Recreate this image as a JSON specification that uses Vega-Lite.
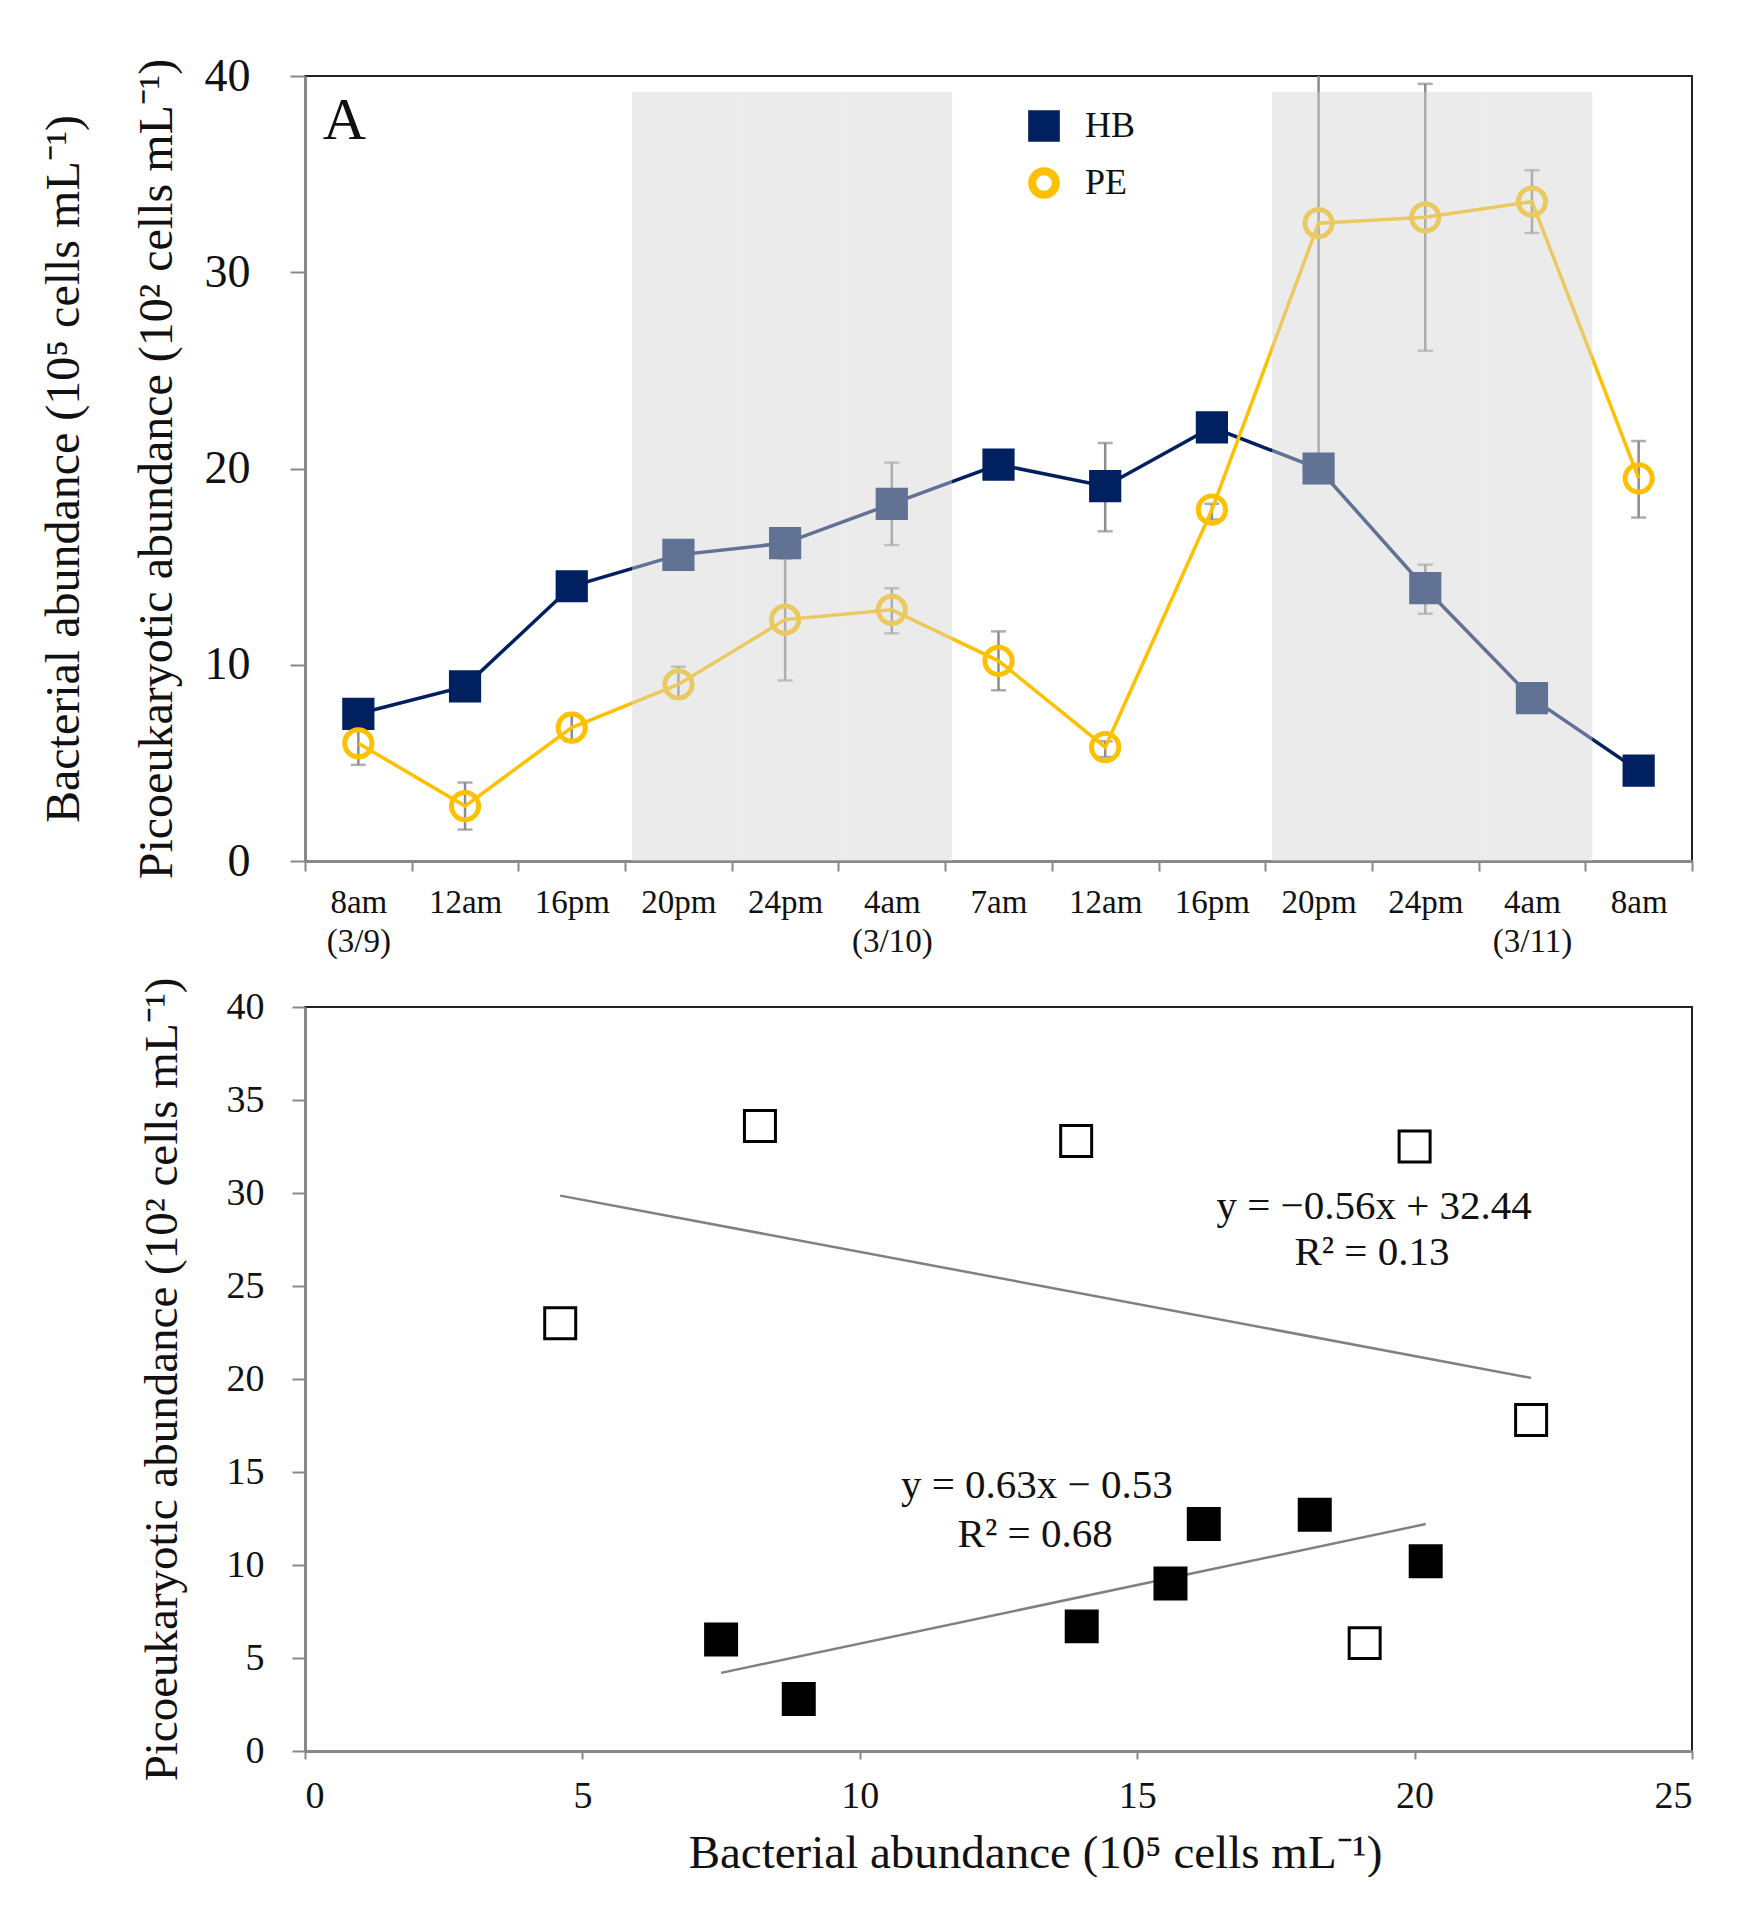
{
  "$schema": "https://vega.github.io/schema/vega-lite/v6.json",
  "background": "white",
  "padding": {"left": 39, "top": 52, "right": 0, "bottom": 0},
  "spacing": 17,
  "resolve": {
    "scale": {"fill": "independent", "stroke": "independent", "shape": "independent"},
    "legend": {"fill": "independent", "stroke": "independent", "shape": "independent"}
  },
  "config": {
    "font": "Liberation Serif",
    "view": {"stroke": "#222", "strokeWidth": 2},
    "axis": {"grid": false, "domainColor": "#888", "domainWidth": 3, "tickColor": "#888", "tickWidth": 2, "labelColor": "#111", "titleColor": "#111", "titleFontWeight": "normal", "labelFont": "Liberation Serif", "titleFont": "Liberation Serif"},
    "legend": {"orient": "none", "legendX": 721, "legendY": 32, "title": null, "labelFontSize": 36, "labelFont": "Liberation Serif", "labelColor": "#111", "symbolSize": 560, "symbolStrokeWidth": 8, "labelOffset": 23, "rowPadding": 1, "padding": 0}
  },
  "datasets": {
    "series": [
      {"t": "8am|(3/9)", "s": "HB", "v": 7.5},
      {"t": "12am", "s": "HB", "v": 8.9},
      {"t": "16pm", "s": "HB", "v": 14.0},
      {"t": "20pm", "s": "HB", "v": 15.6},
      {"t": "24pm", "s": "HB", "v": 16.2},
      {"t": "4am|(3/10)", "s": "HB", "v": 18.2, "lo": 16.1, "hi": 20.3},
      {"t": "7am", "s": "HB", "v": 20.2},
      {"t": "12am\u200b", "s": "HB", "v": 19.1, "lo": 16.8, "hi": 21.3},
      {"t": "16pm\u200b", "s": "HB", "v": 22.1},
      {"t": "20pm\u200b", "s": "HB", "v": 20.0},
      {"t": "24pm\u200b", "s": "HB", "v": 13.9, "lo": 12.6, "hi": 15.1},
      {"t": "4am|(3/11)", "s": "HB", "v": 8.3},
      {"t": "8am", "s": "HB", "v": 4.6},
      {"t": "8am|(3/9)", "s": "PE", "v": 6.0, "lo": 4.9, "hi": 7.1},
      {"t": "12am", "s": "PE", "v": 2.8, "lo": 1.6, "hi": 4.0},
      {"t": "16pm", "s": "PE", "v": 6.8, "lo": 6.1, "hi": 7.5},
      {"t": "20pm", "s": "PE", "v": 9.0, "lo": 8.3, "hi": 9.9},
      {"t": "24pm", "s": "PE", "v": 12.3, "lo": 9.2, "hi": 15.4},
      {"t": "4am|(3/10)", "s": "PE", "v": 12.8, "lo": 11.6, "hi": 13.9},
      {"t": "7am", "s": "PE", "v": 10.2, "lo": 8.7, "hi": 11.7},
      {"t": "12am\u200b", "s": "PE", "v": 5.8, "lo": 5.3, "hi": 6.1},
      {"t": "16pm\u200b", "s": "PE", "v": 17.9, "lo": 17.4, "hi": 18.2},
      {"t": "20pm\u200b", "s": "PE", "v": 32.5, "lo": 20.0, "hi": 45.0},
      {"t": "24pm\u200b", "s": "PE", "v": 32.8, "lo": 26.0, "hi": 39.6},
      {"t": "4am|(3/11)", "s": "PE", "v": 33.6, "lo": 32.0, "hi": 35.2},
      {"t": "8am", "s": "PE", "v": 19.5, "lo": 17.5, "hi": 21.4}
    ],
    "shade": [
      {"t": "20pm"}, {"t": "24pm"}, {"t": "4am|(3/10)"},
      {"t": "20pm\u200b"}, {"t": "24pm\u200b"}, {"t": "4am|(3/11)"}
    ],
    "scatter": [
      {"hb": 7.5, "pe": 6.0, "g": "filled"},
      {"hb": 8.9, "pe": 2.8, "g": "filled"},
      {"hb": 14.0, "pe": 6.7, "g": "filled"},
      {"hb": 15.6, "pe": 9.0, "g": "filled"},
      {"hb": 16.2, "pe": 12.2, "g": "filled"},
      {"hb": 18.2, "pe": 12.7, "g": "filled"},
      {"hb": 20.2, "pe": 10.2, "g": "filled"},
      {"hb": 4.6, "pe": 23.0, "g": "open"},
      {"hb": 8.2, "pe": 33.6, "g": "open"},
      {"hb": 13.9, "pe": 32.8, "g": "open"},
      {"hb": 20.0, "pe": 32.5, "g": "open"},
      {"hb": 22.1, "pe": 17.8, "g": "open"},
      {"hb": 19.1, "pe": 5.8, "g": "open"}
    ],
    "fits": [
      {"fit": "filled", "hb": 7.5, "pe": 4.2},
      {"fit": "filled", "hb": 20.2, "pe": 12.2},
      {"fit": "open", "hb": 4.6, "pe": 29.86},
      {"fit": "open", "hb": 22.1, "pe": 20.06}
    ],
    "notes": [
      {"hb": 19.27, "pe": 28.6, "txt": "y = −0.56x + 32.44"},
      {"hb": 19.23, "pe": 26.13, "txt": "R² = 0.13"},
      {"hb": 13.19, "pe": 13.6, "txt": "y = 0.63x − 0.53"},
      {"hb": 13.16, "pe": 10.97, "txt": "R² = 0.68"}
    ]
  },
  "vconcat": [
    {
      "width": 1387,
      "height": 785,
      "encoding": {
        "x": {
          "field": "t", "type": "nominal",
          "scale": {"type": "band", "paddingInner": 0, "paddingOuter": 0,
            "domain": ["8am|(3/9)", "12am", "16pm", "20pm", "24pm", "4am|(3/10)", "7am", "12am\u200b", "16pm\u200b", "20pm\u200b", "24pm\u200b", "4am|(3/11)", "8am"]},
          "axis": {"title": null, "labelAngle": 0, "labelFontSize": 33, "labelLineHeight": 39, "tickSize": 10, "labelPadding": 15, "tickBand": "extent", "labelExpr": "isString(datum.value) ? split(datum.value, '|') : ''"}
        }
      },
      "layer": [
        {
          "data": {"name": "series"},
          "mark": {"type": "rule", "color": "#8c8c8c", "strokeWidth": 2.5, "clip": true},
          "encoding": {
            "y": {"field": "lo", "type": "quantitative", "scale": {"domain": [0, 40], "nice": false},
              "axis": {"title": ["Bacterial abundance (10⁵ cells mL⁻¹)", "Picoeukaryotic abundance (10² cells mL⁻¹)"], "titleFontSize": 48, "titleLineHeight": 93, "titlePadding": 23, "labelFontSize": 46, "tickSize": 15, "labelPadding": 40, "values": [0, 10, 20, 30, 40]}},
            "y2": {"field": "hi"}
          }
        },
        {
          "data": {"name": "series"},
          "mark": {"type": "tick", "color": "#8c8c8c", "thickness": 2.5, "size": 15, "clip": true},
          "encoding": {"y": {"field": "lo", "type": "quantitative"}}
        },
        {
          "data": {"name": "series"},
          "mark": {"type": "tick", "color": "#8c8c8c", "thickness": 2.5, "size": 15, "clip": true},
          "encoding": {"y": {"field": "hi", "type": "quantitative"}}
        },
        {
          "data": {"name": "series"},
          "mark": {"type": "line", "strokeWidth": 3.5},
          "encoding": {
            "y": {"field": "v", "type": "quantitative"},
            "stroke": {"field": "s", "type": "nominal", "scale": {"domain": ["HB", "PE"], "range": ["#002060", "#FFC000"]}}
          }
        },
        {
          "data": {"name": "series"},
          "mark": {"type": "point", "size": 740, "strokeWidth": 5, "opacity": 1},
          "encoding": {
            "y": {"field": "v", "type": "quantitative"},
            "shape": {"field": "s", "type": "nominal", "scale": {"domain": ["HB", "PE"], "range": ["square", "circle"]}},
            "fill": {"field": "s", "type": "nominal", "scale": {"domain": ["HB", "PE"], "range": ["#002060", "transparent"]}},
            "stroke": {"field": "s", "type": "nominal"}
          }
        },
        {
          "data": {"name": "shade"},
          "mark": {"type": "bar", "color": "#d4d4d4", "opacity": 0.46, "xOffset": 7},
          "encoding": {
            "y": {"datum": 39.2, "type": "quantitative"},
            "y2": {"datum": 0}
          }
        },
        {
          "data": {"values": [{"lab": "A"}]},
          "mark": {"type": "text", "fontSize": 60, "dx": -14, "align": "center", "baseline": "alphabetic", "color": "#111"},
          "encoding": {
            "x": {"datum": "8am|(3/9)"},
            "y": {"datum": 36.8, "type": "quantitative"},
            "text": {"field": "lab"}
          }
        }
      ]
    },
    {
      "width": 1387,
      "height": 744,
      "encoding": {
        "x": {"field": "hb", "type": "quantitative", "scale": {"domain": [0, 25], "nice": false},
          "axis": {"title": "Bacterial abundance (10⁵ cells mL⁻¹)", "titleFontSize": 47, "titleX": 730, "titlePadding": 15, "labelFontSize": 38, "tickSize": 8, "labelPadding": 18, "values": [0, 5, 10, 15, 20, 25]}},
        "y": {"field": "pe", "type": "quantitative", "scale": {"domain": [0, 40], "nice": false},
          "axis": {"title": "Picoeukaryotic abundance (10² cells mL⁻¹)", "titleFontSize": 47, "titlePadding": 40, "labelFontSize": 38, "tickSize": 13, "labelPadding": 28, "values": [0, 5, 10, 15, 20, 25, 30, 35, 40]}}
      },
      "layer": [
        {
          "data": {"name": "fits"},
          "mark": {"type": "line", "color": "#808080", "strokeWidth": 2.5},
          "encoding": {"detail": {"field": "fit"}}
        },
        {
          "data": {"name": "scatter"},
          "mark": {"type": "point", "shape": "square", "size": 960, "strokeWidth": 3, "stroke": "#000", "opacity": 1},
          "encoding": {
            "fill": {"field": "g", "type": "nominal", "scale": {"domain": ["filled", "open"], "range": ["#000000", "#ffffff"]}, "legend": null}
          }
        },
        {
          "data": {"name": "notes"},
          "mark": {"type": "text", "fontSize": 41, "align": "center", "baseline": "alphabetic", "color": "#111"},
          "encoding": {"text": {"field": "txt"}}
        },
        {
          "data": {"values": [{"lab": "B"}]},
          "mark": {"type": "text", "fontSize": 58, "align": "center", "baseline": "alphabetic", "color": "#111"},
          "encoding": {
            "x": {"datum": 0.74, "type": "quantitative"},
            "y": {"datum": 35.5, "type": "quantitative"},
            "text": {"field": "lab"}
          }
        }
      ]
    }
  ]
}
